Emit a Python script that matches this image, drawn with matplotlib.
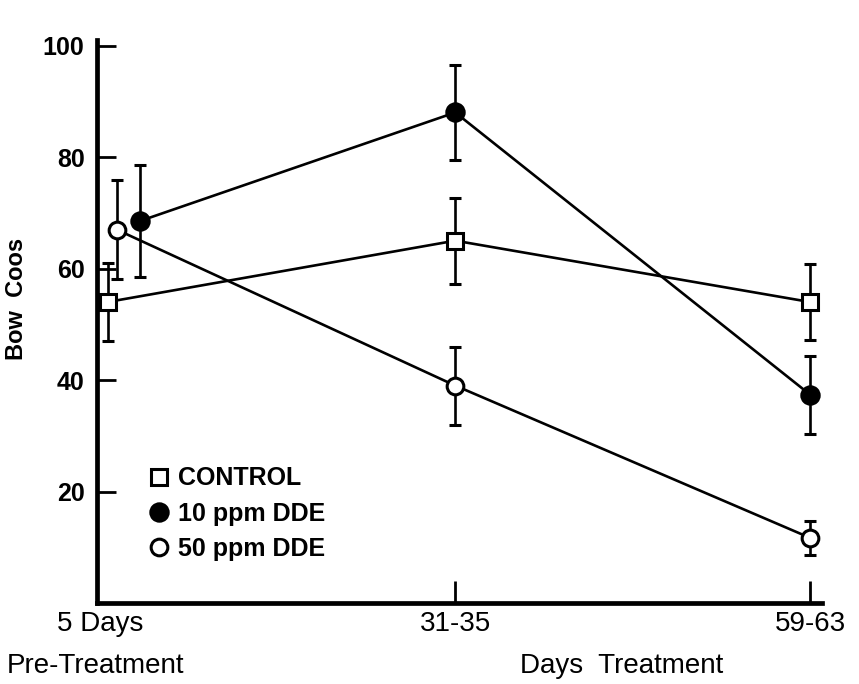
import matplotlib.pyplot as plt
from matplotlib.lines import Line2D

# sampling periods (x axis)
periods = ['5 Days', '31-35', '59-63']
period_x = [0, 1, 2]

# Bow coos, mean and error bar half-length
control = [54, 65, 54]
control_err = [7, 7.7, 6.8]
dde10 = [68.5, 88, 37.4]
dde10_err = [10, 8.5, 7]
dde50 = [67, 39, 11.7]
dde50_err = [8.8, 7, 3]

# the pre-treatment points are drawn side by side, not on top of each other
shift_5d = {'control': 0.02, 'dde10': 0.11, 'dde50': 0.045}

plt.rcParams['font.family'] = ['Liberation Sans', 'DejaVu Sans']

fig = plt.figure(figsize=(8.59, 6.84), dpi=100)
ax = fig.add_axes([97 / 859, 81 / 684, 725 / 859, 563 / 684])


def xs(key):
    return [period_x[0] + shift_5d[key]] + period_x[1:]


def series(key, vals, errs, marker, face, label, ms):
    x = xs(key)
    ax.errorbar(x, vals, yerr=errs, fmt='-', color='k', lw=1.9,
                elinewidth=1.9, capsize=4.5, capthick=2.2, zorder=2)
    ax.plot(x, vals, ls='none', marker=marker, ms=ms, mfc=face,
            mec='k', mew=2.2, zorder=3)
    return Line2D([], [], ls='none', marker=marker, ms=ms, mfc=face,
                  mec='k', mew=2.2, label=label)


handles = [
    series('control', control, control_err, 's', 'white', 'CONTROL', 11),
    series('dde10', dde10, dde10_err, 'o', 'black', '10 ppm DDE', 12.5),
    series('dde50', dde50, dde50_err, 'o', 'white', '50 ppm DDE', 12),
]

ax.set_xlim(-0.01, 2.034)
ax.set_ylim(0, 101)

for side in ['top', 'right']:
    ax.spines[side].set_visible(False)
for side in ['left', 'bottom']:
    ax.spines[side].set_linewidth(3.4)

ax.set_yticks([20, 40, 60, 80, 100])
ax.set_yticklabels(['20', '40', '60', '80', '100'], fontsize=18, fontweight='bold')
ax.tick_params(axis='y', direction='in', length=14, width=2, pad=9)

ax.set_xticks(period_x)
ax.set_xticklabels(periods, fontsize=20)
ax.tick_params(axis='x', direction='in', length=16, width=2, pad=6)
ax.xaxis.get_major_ticks()[0].tick1line.set_visible(False)

ax.set_ylabel('Bow  Coos', fontsize=17, fontweight='bold')
ax.yaxis.set_label_coords(-0.095, 0.54)

fig.text(0.008, 1 - 666 / 684, 'Pre-Treatment', fontsize=20,
         va='center', ha='left')
fig.text(520 / 859, 1 - 666 / 684, 'Days  Treatment', fontsize=20,
         va='center', ha='left')

ax.legend(handles=handles, loc='upper left', bbox_to_anchor=(0.055, 0.265),
          frameon=False, handlelength=0.8, handletextpad=0.35, labelspacing=0.45,
          borderpad=0, prop={'size': 18, 'weight': 'bold'})

fig.savefig('out.png', dpi=100)
